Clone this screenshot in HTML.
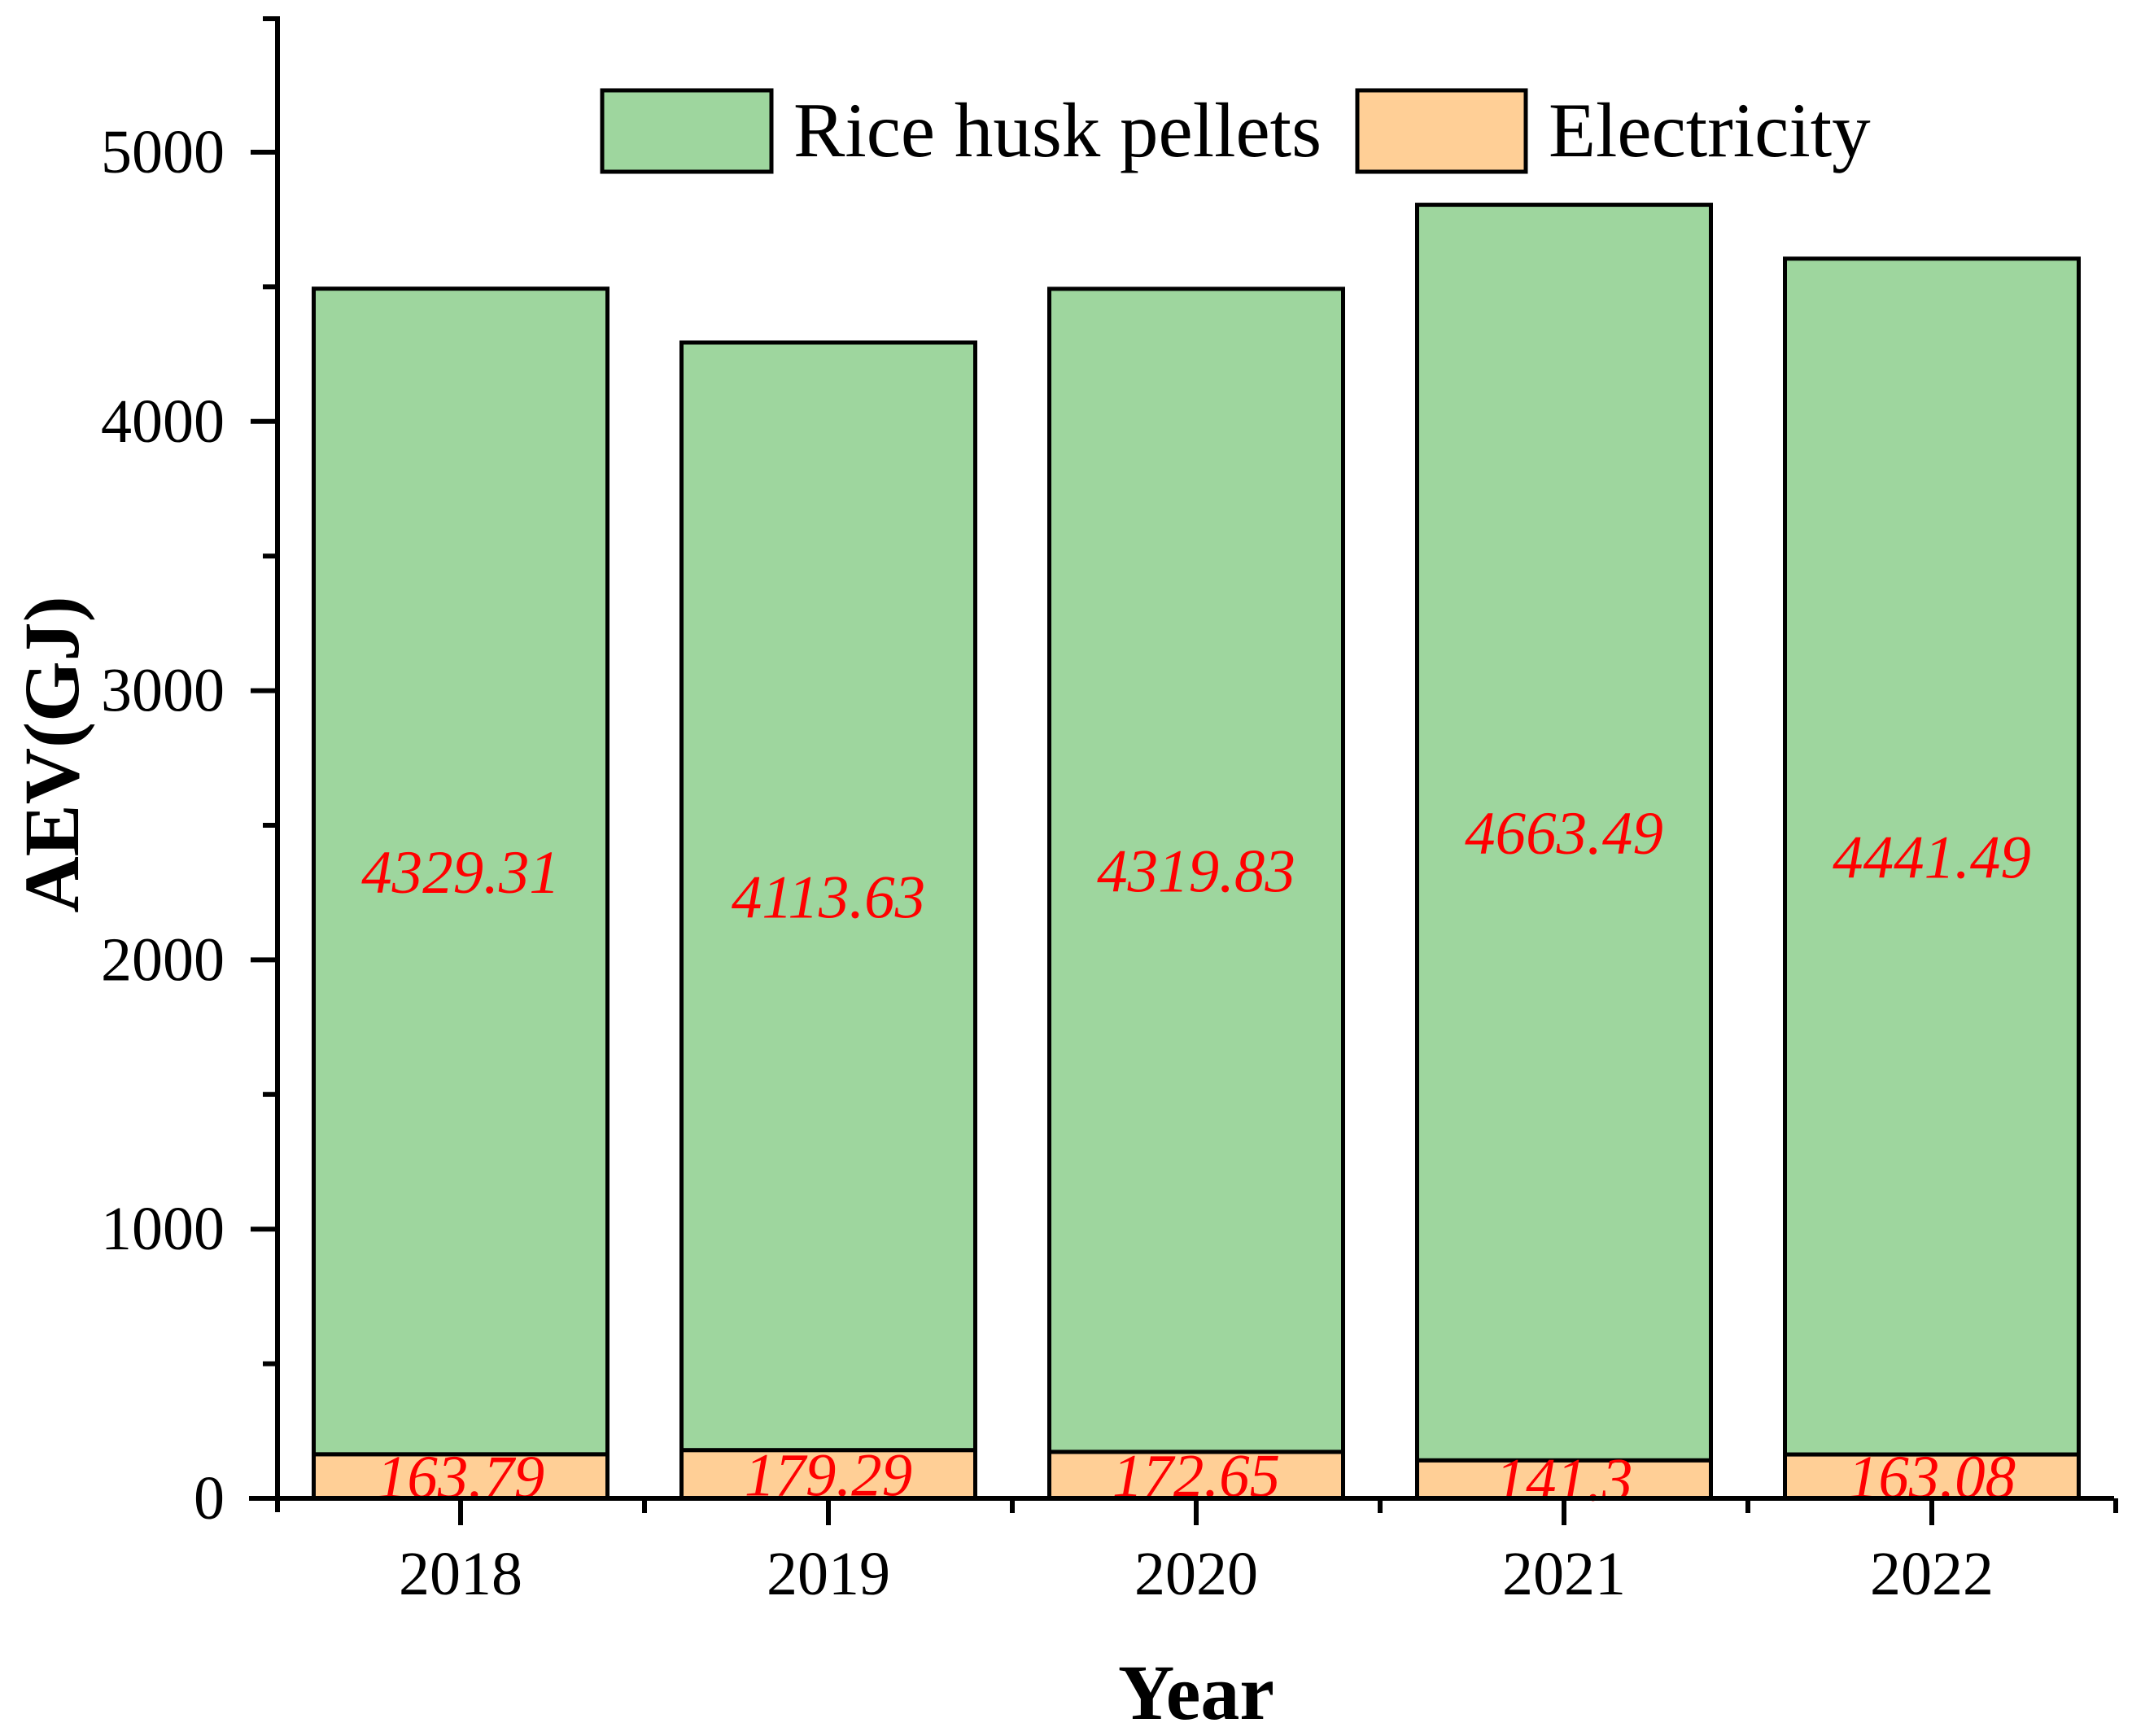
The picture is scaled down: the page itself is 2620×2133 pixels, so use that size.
<!DOCTYPE html>
<html><head><meta charset="utf-8"><style>
html,body{margin:0;padding:0;background:#fff;}
svg{display:block;font-family:"Liberation Serif",serif;}
</style></head><body>
<svg id="chart" width="2620" height="2133" viewBox="0 0 2620 2133" xmlns="http://www.w3.org/2000/svg">
<g id="bars"></g>
<g id="axes"></g>
<g id="legend">
  <rect x="740" y="111" width="208" height="100" fill="#9ed69e" stroke="#000" stroke-width="5"/>
  <text x="975" y="192" font-size="95">Rice husk pellets</text>
  <rect x="1668" y="111" width="207" height="100" fill="#ffcf96" stroke="#000" stroke-width="5"/>
  <text x="1903" y="192" font-size="95">Electricity</text>
</g>
<text x="1470" y="2112" font-size="96" font-weight="bold" text-anchor="middle">Year</text>
<text transform="translate(96,927) rotate(-90)" font-size="96" font-weight="bold" text-anchor="middle">AEV(GJ)</text>
</svg>
<script>
const categories = ["2018","2019","2020","2021","2022"];
const electricity = [163.79,179.29,172.65,141.3,163.08];
const pellets = [4329.31,4113.63,4319.83,4663.49,4441.49];
const yTicks = [0,1000,2000,3000,4000,5000];
const yMinorTicks = [500,1500,2500,3500,4500];

const NS="http://www.w3.org/2000/svg";
const X0=341, X1=2598, Y0=1841, PER=0.3308;
const step=452, first=566, bw=361;
function y(v){return Y0 - v*PER;}
function xc(i){return first + i*step;}
function mk(tag,attrs,parent,text){const e=document.createElementNS(NS,tag);for(const k in attrs)e.setAttribute(k,attrs[k]);if(text!==undefined)e.textContent=text;parent.appendChild(e);return e;}
const bars=document.getElementById('bars'), axes=document.getElementById('axes');
categories.forEach((c,i)=>{
  const e=electricity[i], p=pellets[i];
  const r1=mk('rect',{x:xc(i)-bw/2,y:y(e),width:bw,height:Y0-y(e),fill:'#ffcf96',stroke:'#000','stroke-width':5},bars);
  
  
  const r2=mk('rect',{x:xc(i)-bw/2,y:y(e+p),width:bw,height:y(e)-y(e+p),fill:'#9ed69e',stroke:'#000','stroke-width':5},bars);
  
  
  const t1=mk('text',{x:xc(i),y:y(e/2)+26,'font-size':75,'font-style':'italic',fill:'#ff0000','text-anchor':'middle'},bars,String(e));
  
  
  const t2=mk('text',{x:xc(i),y:y(e+p/2)+26,'font-size':75,'font-style':'italic',fill:'#ff0000','text-anchor':'middle'},bars,String(p));
  
  
  const tk=mk('line',{x1:xc(i),x2:xc(i),y1:Y0,y2:Y0+33,stroke:'#000','stroke-width':6},axes);
  
  
  const tl=mk('text',{x:xc(i),y:Y0+118,'font-size':76,'text-anchor':'middle'},axes,c);
  
  
  const mt=mk('line',{x1:xc(i)+step/2,x2:xc(i)+step/2,y1:Y0,y2:Y0+18,stroke:'#000','stroke-width':6},axes);
  
  
});
yTicks.forEach(v=>{
  const l=mk('line',{x1:X0-33,x2:X0,y1:y(v),y2:y(v),stroke:'#000','stroke-width':6},axes);
  
  
  const t=mk('text',{x:X0-65,y:y(v)+25,'font-size':76,'text-anchor':'end'},axes,String(v));
  
  
});
yMinorTicks.forEach(v=>{
  const l=mk('line',{x1:X0-18,x2:X0,y1:y(v),y2:y(v),stroke:'#000','stroke-width':6},axes);
  
  
});
const ya=mk('line',{x1:X0,x2:X0,y1:20,y2:Y0+17,stroke:'#000','stroke-width':6},axes);


const yt=mk('line',{x1:X0-18,x2:X0,y1:23,y2:23,stroke:'#000','stroke-width':6},axes);


const xa=mk('line',{x1:X0-35,x2:X1,y1:Y0,y2:Y0,stroke:'#000','stroke-width':6},axes);


</script>
</body></html>
